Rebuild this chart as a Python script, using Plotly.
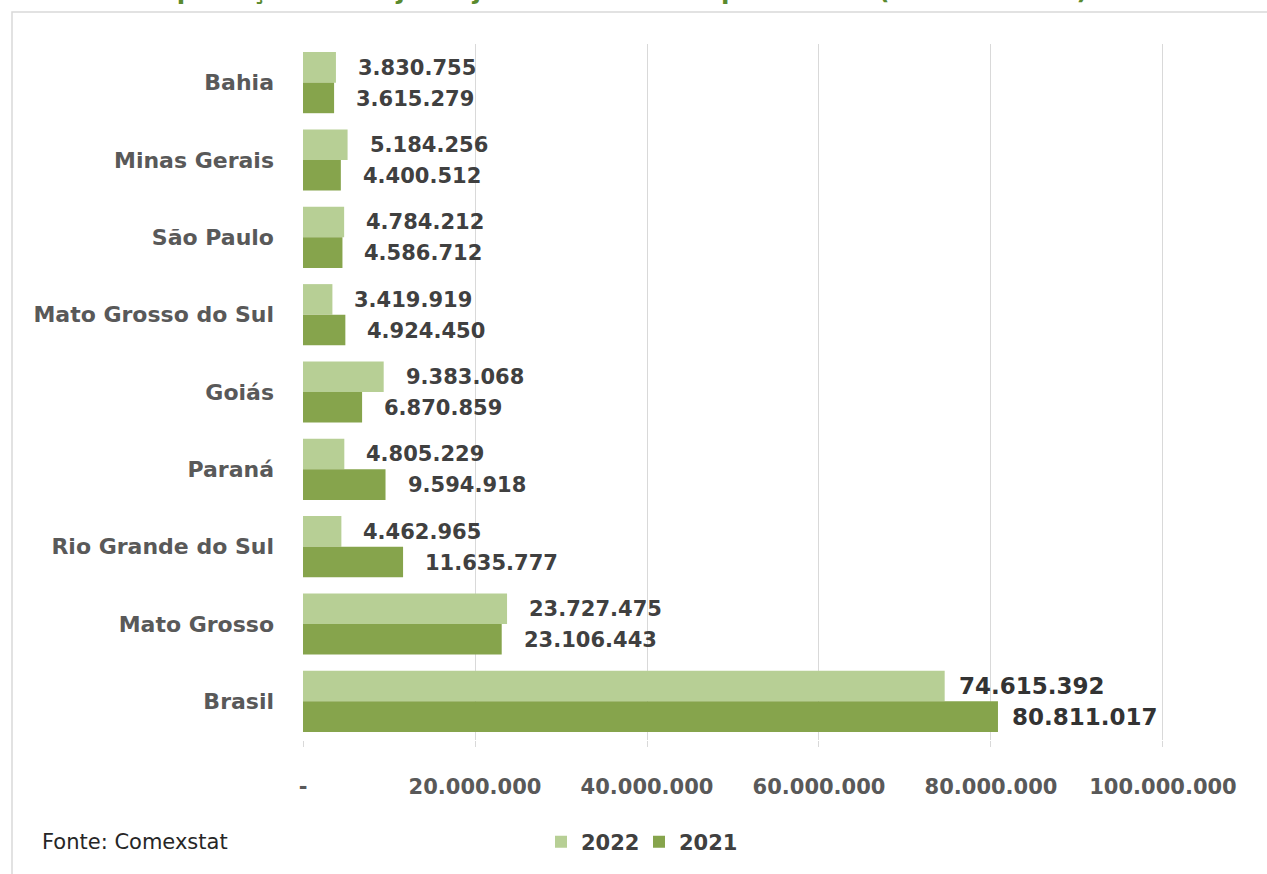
import plotly.graph_objects as go

# Soybean exports by state, January to October (tonnes)
states = ["Bahia", "Minas Gerais", "São Paulo", "Mato Grosso do Sul", "Goiás",
          "Paraná", "Rio Grande do Sul", "Mato Grosso", "Brasil"]
exp_2022 = [3830755, 5184256, 4784212, 3419919, 9383068,
            4805229, 4462965, 23727475, 74615392]
exp_2021 = [3615279, 4400512, 4586712, 4924450, 6870859,
            9594918, 11635777, 23106443, 80811017]

x_tickvals = [0, 20000000, 40000000, 60000000, 80000000, 100000000]
x_ticktext = ["-", "20.000.000", "40.000.000", "60.000.000", "80.000.000", "100.000.000"]

title_text = "Gráfico 1: Exportações de soja de janeiro a outubro por estado (em toneladas)"
source_text = "Fonte: Comexstat"

LIGHT = "#b7cf95"
DARK = "#86a44c"
TEXT = "#404040"
AXIS_TEXT = "#595959"
FONT = "DejaVu Sans"

W, H = 1267, 874
ML, MR, MT, MB = 303, 101, 44, 134
PW, PH = W - ML - MR, H - MT - MB


def px_x(px):
    return (px - ML) / PW


def px_y(py):
    return (H - MB - py) / PH


def fmt(v):
    return f"{v:,}".replace(",", ".")


fig = go.Figure()
fig.add_trace(go.Bar(name="2022", y=states, x=exp_2022, orientation="h",
                     marker=dict(color=LIGHT, line=dict(width=0))))
fig.add_trace(go.Bar(name="2021", y=states, x=exp_2021, orientation="h",
                     marker=dict(color=DARK, line=dict(width=0))))

annotations = []
for series, dy in ((exp_2022, 15), (exp_2021, -16)):
    for st, v in zip(states, series):
        big = st == "Brasil"
        annotations.append(dict(
            x=v, y=st, xref="x", yref="y", text=fmt(v), showarrow=False,
            xanchor="left", yanchor="middle", xshift=12 if big else 20, yshift=dy,
            font=dict(family=FONT, size=23 if big else 21,
                      color="#333333" if big else TEXT, weight="bold")))

annotations.append(dict(
    x=px_x(40), y=px_y(842), xref="paper", yref="paper", text=source_text,
    showarrow=False, xanchor="left", yanchor="middle",
    font=dict(family=FONT, size=21, color="#262626")))

# chart heading, sitting at the very top edge of the page
annotations.append(dict(
    x=px_x(0), y=px_y(7), xref="paper", yref="paper", text=title_text,
    showarrow=False, xanchor="left", yanchor="bottom",
    font=dict(family=FONT, size=24.5, color="#5a8a2e", weight="bold")))

fig.update_layout(
    width=W, height=H,
    margin=dict(l=ML, r=MR, t=MT, b=MB),
    paper_bgcolor="white", plot_bgcolor="white",
    barmode="group", bargap=0.21, bargroupgap=0,
    font=dict(family=FONT, color=AXIS_TEXT),
    legend=dict(orientation="h", x=px_x(541), y=px_y(842), xanchor="left",
                yanchor="middle", traceorder="normal",
                entrywidth=53, entrywidthmode="pixels",
                font=dict(family=FONT, size=21, color=TEXT, weight="bold")),
    annotations=annotations,
    shapes=[dict(type="rect", xref="paper", yref="paper",
                 x0=px_x(12), x1=px_x(1300), y0=px_y(900), y1=px_y(12),
                 line=dict(color="#d9d9d9", width=1.5), layer="below")],
    xaxis=dict(range=[0, 100350000], tickvals=x_tickvals, ticktext=x_ticktext,
               showgrid=True, gridcolor="#d9d9d9", gridwidth=1,
               zeroline=False, showline=False,
               ticks="outside", ticklen=6, tickcolor="#d9d9d9",
               ticklabelstandoff=22,
               tickfont=dict(family=FONT, size=21, color=AXIS_TEXT, weight="bold")),
    yaxis=dict(autorange="reversed", categoryorder="array", categoryarray=states,
               showgrid=False, zeroline=False, showline=False, ticks="",
               ticklabelstandoff=28,
               tickfont=dict(family=FONT, size=22, color=AXIS_TEXT, weight="bold")),
)

fig.write_html("out.html")
